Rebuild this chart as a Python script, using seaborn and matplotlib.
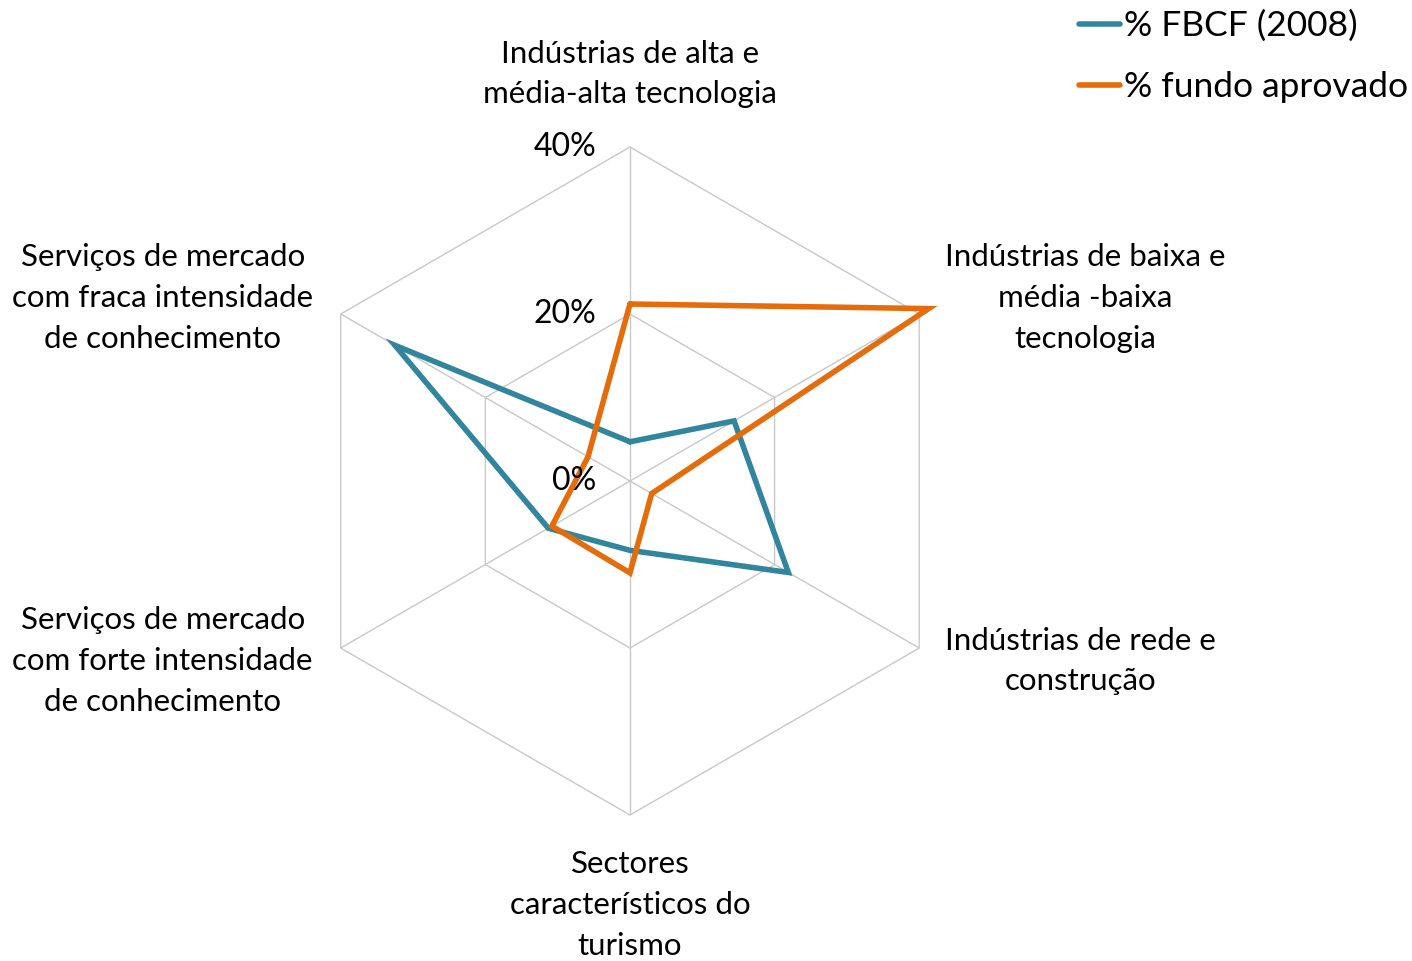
import numpy as np
import pandas as pd
import seaborn as sns
import matplotlib.pyplot as plt

categories = ['Indústrias de alta e\nmédia-alta tecnologia',
              'Indústrias de baixa e\nmédia -baixa\ntecnologia',
              'Indústrias de rede e\nconstrução',
              'Sectores\ncaracterísticos do\nturismo',
              'Serviços de mercado\ncom forte intensidade\nde conhecimento',
              'Serviços de mercado\ncom fraca intensidade\nde conhecimento']
fbcf = [4.7, 14.4, 21.9, 8.3, 11.3, 32.5]
fundo = [21.2, 41.3, 3.0, 11.0, 10.8, 5.8]
series_names = ['% FBCF (2008)', '% fundo aprovado']
r_ticks = [0, 20, 40]
r_labels = ['0%', '20%', '40%']

colors = ['#31859C', '#E46C0A']
grid_color = '#C8C8C8'

sns.set_style('white')
plt.rcParams['font.family'] = ['Lato', 'DejaVu Sans']
plt.rcParams['text.color'] = 'black'

n = len(categories)
angles = np.linspace(0, 2 * np.pi, n, endpoint=False)
closed = np.append(angles, angles[0] + 2 * np.pi)

rows = []
for name, vals in zip(series_names, [fbcf, fundo]):
    for a, v in zip(closed, vals + vals[:1]):
        rows.append({'angle': a, 'value': v, 'series': name})
df = pd.DataFrame(rows)

fig = plt.figure(figsize=(14.12, 9.61), dpi=100)
ax = fig.add_axes([0.2096, 0.1519, 0.4731, 0.6951], projection='polar')
ax.set_theta_zero_location('N')
ax.set_theta_direction(-1)
ax.set_ylim(0, 40)

# hexagonal grid instead of circles
ax.yaxis.grid(False)
ax.spines['polar'].set_visible(False)
ax.set_xticks(angles)
ax.set_xticklabels([])
ax.set_yticks([])
ax.xaxis.grid(True, color=grid_color, lw=1)
for r in r_ticks[1:]:
    ax.plot(closed, [r] * len(closed), color=grid_color, lw=1, zorder=1)

sns.lineplot(data=df, x='angle', y='value', hue='series', palette=colors,
             sort=False, estimator=None, lw=4.0, ax=ax, legend=False, zorder=3)
for line in ax.lines:
    line.set_clip_on(False)
    line.set_solid_joinstyle('miter')

for r, lab in zip(r_ticks, r_labels):
    ax.annotate(lab, (0, r), xytext=(-34, 0), textcoords='offset pixels',
                ha='right', va='center', fontsize=23)

offsets = [(0, 73), (166, 16), (161, -13), (0, -90), (-178, -13), (-178, 16)]
for a, lab, off in zip(angles, categories, offsets):
    ax.annotate(lab, (a, 40), xytext=off, textcoords='offset pixels',
                ha='center', va='center', fontsize=22.5, linespacing=1.55,
                annotation_clip=False)

handles = [plt.Line2D([], [], color=c, lw=4.0, solid_capstyle='round') for c in colors]
fig.legend(handles, series_names, loc='upper right', bbox_to_anchor=(1.011, 1.01),
           frameon=False, fontsize=25.5, handlelength=1.15, handletextpad=0.12,
           labelspacing=0.82, borderpad=0.05)

ax.set_xlabel('')
ax.set_ylabel('')
fig.savefig('out.png', dpi=100)
plt.close()
